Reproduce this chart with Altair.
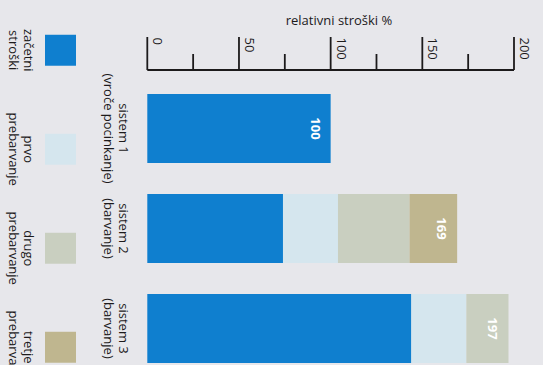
import altair as alt
import pandas as pd

# Systems compared and their two-line captions
systems = ["sistem 1", "sistem 2", "sistem 3"]
system_captions = ["sistem 1\n(vroče pocinkanje)", "sistem 2\n(barvanje)", "sistem 3\n(barvanje)"]

# Cost stages (stack order) with legend captions and colours
stages = ["začetni stroški", "prvo prebarvanje", "drugo prebarvanje", "tretje prebarvanje"]
stage_captions = ["začetni\nstroški", "prvo\nprebarvanje", "drugo\nprebarvanje", "tretje\nprebarvanje"]
stage_colors = ["#0f7fcf", "#d5e6ee", "#c9cfc0", "#bfb68f"]

# Relative cost (%) of each stage per system
sistem1 = [100, 0, 0, 0]
sistem2 = [74, 30, 39, 26]
sistem3 = [144, 30, 23, 0]
totals = [100, 169, 197]

# Axis
axis_ticks = [0, 25, 50, 75, 100, 125, 150, 175, 200]
axis_label_values = [0, 50, 100, 150, 200]
axis_labels = ["0", "50", "100", "150", "200"]
axis_title = "relativni stroški %"

FONT = "Open Sans"
INK = "#1c1a1b"

rows = []
for name, vals in zip(systems, [sistem1, sistem2, sistem3]):
    for i, (stage, v) in enumerate(zip(stages, vals)):
        if v > 0:
            rows.append({"sistem": name, "faza": stage, "red": i, "vrednost": v})
bars_df = pd.DataFrame(rows)
totals_df = pd.DataFrame({"sistem": systems, "skupaj": totals})
captions_df = pd.DataFrame({"sistem": systems, "napis": system_captions})
legend_df = pd.DataFrame({"faza": stages, "napis": stage_captions})
ticks_df = pd.DataFrame({"v": axis_ticks, "glavna": [t in axis_label_values for t in axis_ticks]})
tick_labels_df = pd.DataFrame({"v": axis_label_values, "napis": axis_labels})
domain_df = pd.DataFrame({"od": [axis_ticks[0]], "do": [axis_ticks[-1]]})
title_df = pd.DataFrame({"napis": [axis_title]})

xs = alt.Scale(domain=[0, 200], range=[147.3, 514])
ys = alt.Scale(domain=systems, range=[78.5, 378.5], paddingInner=0.31, paddingOuter=0.155)
ls = alt.Scale(domain=stages, range=[0.75, 396.75], paddingInner=0.687, paddingOuter=0.3435)
cs = alt.Scale(domain=stages, range=stage_colors)

bars = alt.Chart(bars_df).mark_bar().encode(
    x=alt.X("vrednost:Q", scale=xs, axis=None, stack="zero"),
    y=alt.Y("sistem:N", scale=ys, axis=None),
    color=alt.Color("faza:N", scale=cs, legend=None),
    order=alt.Order("red:Q"),
)

value_labels = alt.Chart(totals_df).mark_text(
    angle=90, align="center", baseline="middle", dy=16,
    font=FONT, fontSize=13, fontWeight="bold", color="white",
).encode(
    x=alt.X("skupaj:Q", scale=xs, axis=None),
    y=alt.Y("sistem:N", scale=ys, axis=None),
    text="skupaj:Q",
)

# Rotated captions: first line sits at the anchor, the second one to its left
system_labels = alt.Chart(captions_df).mark_text(
    angle=90, align="center", baseline="middle", lineBreak="\n", lineHeight=15,
    font=FONT, fontSize=13, color=INK,
).encode(
    x=alt.value(123),
    y=alt.Y("sistem:N", scale=ys, axis=None),
    text="napis:N",
)

# Hand-built top axis: baseline, major/minor ticks, rotated labels, title
axis_line = alt.Chart(domain_df).mark_rule(color=INK, strokeWidth=1.8).encode(
    x=alt.X("od:Q", scale=xs, axis=None), x2="do:Q", y=alt.value(70),
)
major_ticks = alt.Chart(ticks_df).transform_filter("datum.glavna").mark_rule(
    color=INK, strokeWidth=1.8
).encode(x=alt.X("v:Q", scale=xs, axis=None), y=alt.value(37), y2=alt.value(70))
minor_ticks = alt.Chart(ticks_df).transform_filter("!datum.glavna").mark_rule(
    color=INK, strokeWidth=1.8
).encode(x=alt.X("v:Q", scale=xs, axis=None), y=alt.value(54), y2=alt.value(70))
tick_labels = alt.Chart(tick_labels_df).mark_text(
    angle=90, align="left", baseline="alphabetic", dy=-6,
    font=FONT, fontSize=13, color=INK,
).encode(x=alt.X("v:Q", scale=xs, axis=None), y=alt.value(37.5), text="napis:N")
title = alt.Chart(title_df).mark_text(
    align="center", baseline="middle", font=FONT, fontSize=13, color=INK,
).encode(x=alt.value(339), y=alt.value(21), text="napis:N")

main = alt.layer(bars, value_labels, system_labels, axis_line, major_ticks, minor_ticks, tick_labels, title)

# Legend column on the left
legend_swatches = alt.Chart(legend_df).mark_rect().encode(
    x=alt.value(45), x2=alt.value(76),
    y=alt.Y("faza:N", scale=ls, axis=None),
    color=alt.Color("faza:N", scale=cs, legend=None),
)
legend_text = alt.Chart(legend_df).mark_text(
    angle=90, align="center", baseline="middle", lineBreak="\n", lineHeight=15,
    font=FONT, fontSize=13, color=INK,
).encode(
    x=alt.value(27.5),
    y=alt.Y("faza:N", scale=ls, axis=None),
    text="napis:N",
)
legend = alt.layer(legend_swatches, legend_text)

chart = alt.layer(main, legend).resolve_scale(y="independent").properties(
    width=543, height=365, background="#e7e7eb", padding=0, autosize="none",
).configure_view(stroke=None)

chart.save("out.html", embed_options={"renderer": "svg", "actions": False})
